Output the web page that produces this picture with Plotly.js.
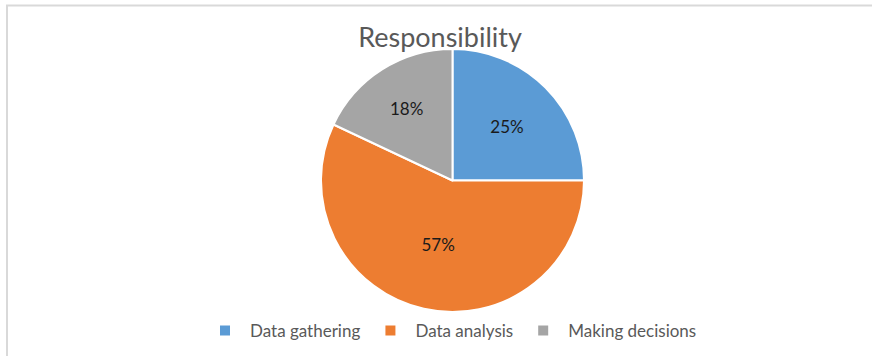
<!DOCTYPE html>
<html>
<head>
<meta charset="utf-8">
<script src="https://cdn.plot.ly/plotly-3.0.1.min.js"></script>
<style>
html,body{margin:0;padding:0;background:#fff;}
#chart{width:872px;height:356px;}
</style>
</head>
<body>
<div id="chart"></div>
<script>
const categories = ["Data gathering", "Data analysis", "Making decisions"];
const values = [25, 57, 18];
const colors = ["#5B9BD5", "#ED7D31", "#A5A5A5"];
const chartTitle = "Responsibility";

const W = 872, H = 356;
const trace = {
  type: "pie",
  labels: categories,
  values: values,
  sort: false,
  direction: "clockwise",
  rotation: 0,
  marker: {colors: colors, line: {color: "#ffffff", width: 2}},
  textinfo: "percent",
  texttemplate: "%{percent:.0%}",
  textposition: "inside",
  insidetextorientation: "horizontal",
  textfont: {family: "Lato, 'Open Sans', sans-serif", size: 17, color: "#1a1a1a"},
  domain: {x: [321 / W, 584 / W], y: [1 - 312 / H, 1 - 49 / H]},
  hoverinfo: "label+percent"
};

const layout = {
  width: W, height: H,
  margin: {l: 0, r: 0, t: 0, b: 0},
  paper_bgcolor: "#ffffff",
  font: {family: "Lato, 'Open Sans', sans-serif", color: "#595959"},
  title: {
    text: chartTitle,
    font: {family: "Lato, 'Open Sans', sans-serif", size: 27, color: "#595959"},
    x: 440 / W, xanchor: "center",
    y: 1 - 38 / H, yanchor: "middle"
  },
  showlegend: true,
  legend: {
    orientation: "h",
    x: 451 / W, xanchor: "center",
    y: 1 - 331 / H, yanchor: "middle",
    itemwidth: 40,
    font: {family: "Lato, 'Open Sans', sans-serif", size: 17, color: "#595959"},
    traceorder: "normal"
  },
  shapes: [{
    type: "rect", xref: "paper", yref: "paper",
    x0: 7 / W, x1: 1.2, y0: -0.2, y1: 1 - 5.5 / H,
    line: {color: "#d9d9d9", width: 2}
  }]
};

Plotly.newPlot("chart", [trace], layout, {displayModeBar: false, staticPlot: true});
</script>
</body>
</html>
